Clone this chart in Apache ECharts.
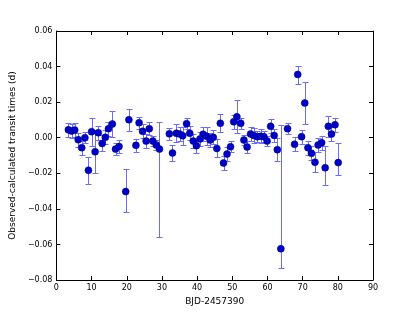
<!DOCTYPE html>
<html>
<head>
<meta charset="utf-8">
<script src="https://cdn.jsdelivr.net/npm/echarts@6/dist/echarts.min.js"></script>
<style>
  html, body { margin: 0; padding: 0; background: #fff; }
  #chart { width: 415px; height: 312px; }
</style>
</head>
<body>
<div id="chart"></div>
<script>
//--------------------------------
// Data
//--------------------------------
const epochs = [3.4, 4.3, 5.2, 6.2, 7.2, 8.1, 9.1, 10.0, 11.0, 11.9,
    13.0, 13.9, 14.8, 15.9, 16.8, 17.8, 19.7, 20.6, 22.6, 23.5,
    24.5, 25.5, 26.4, 27.4, 28.4, 29.3, 32.1, 33.0, 34.1, 35.0,
    35.9, 37.0, 37.9, 38.9, 39.8, 40.8, 41.7, 42.7, 43.7, 44.6,
    45.6, 46.6, 47.5, 48.5, 49.5, 50.4, 51.3, 52.4, 53.3, 54.2,
    55.2, 56.1, 57.1, 58.1, 59.0, 59.9, 60.9, 61.9, 62.8, 63.8,
    65.7, 67.7, 68.6, 69.7, 70.6, 71.5, 72.5, 73.5, 74.4, 75.4,
    76.4, 77.3, 78.2, 79.2, 80.1];

const oc = [0.0045, 0.0038, 0.0043, -0.0011, -0.0056, 0.0000, -0.0183, 0.0034, -0.0079, 0.0028,
    -0.0032, 0.0002, 0.0051, 0.0077, -0.0064, -0.0049, -0.0303, 0.0101, -0.0043, 0.0084,
    0.0036, -0.0019, 0.0051, -0.0019, -0.0041, -0.0064, 0.0022, -0.0086, 0.0025, 0.0021,
    0.0011, 0.0079, 0.0025, -0.0019, -0.0045, -0.0007, 0.0019, 0.0008, -0.0013, 0.0002,
    -0.0060, 0.0081, -0.0142, -0.0092, -0.0051, 0.0090, 0.0118, 0.0081, -0.0013, -0.0052,
    0.0021, 0.0013, 0.0006, 0.0008, 0.0006, -0.0019, 0.0064, 0.0013, -0.0067, -0.0624,
    0.0051, -0.0037, 0.0356, 0.0006, 0.0195, -0.0056, -0.0088, -0.0138, -0.0041, -0.0028,
    -0.0169, 0.0064, 0.0021, 0.0073, -0.0140];

// lower / upper error
const errLo = [0.004, 0.004, 0.004, 0.004, 0.004, 0.003, 0.0077, 0.0079, 0.012, 0.004,
    0.0045, 0.004, 0.004, 0.0071, 0.0035, 0.0035, 0.0115, 0.0062, 0.0035, 0.0035,
    0.004, 0.004, 0.0035, 0.003, 0.003, 0.0496, 0.0035, 0.0045, 0.005, 0.004,
    0.005, 0.003, 0.004, 0.004, 0.004, 0.004, 0.004, 0.005, 0.004, 0.004,
    0.005, 0.005, 0.004, 0.004, 0.003, 0.004, 0.0094, 0.003, 0.003, 0.0035,
    0.004, 0.004, 0.003, 0.004, 0.003, 0.003, 0.004, 0.0035, 0.0065, 0.011,
    0.003, 0.004, 0.0053, 0.004, 0.012, 0.004, 0.004, 0.0055, 0.004, 0.004,
    0.0095, 0.006, 0.004, 0.004, 0.0068];

const errHi = [0.004, 0.004, 0.004, 0.004, 0.004, 0.003, 0.0077, 0.0079, 0.012, 0.004,
    0.0045, 0.004, 0.004, 0.0071, 0.0035, 0.0035, 0.0128, 0.0062, 0.0035, 0.0035,
    0.004, 0.004, 0.0035, 0.003, 0.003, 0.0151, 0.0035, 0.0045, 0.005, 0.004,
    0.005, 0.003, 0.004, 0.004, 0.004, 0.004, 0.004, 0.005, 0.004, 0.004,
    0.005, 0.005, 0.004, 0.004, 0.003, 0.004, 0.0094, 0.003, 0.003, 0.0035,
    0.004, 0.004, 0.003, 0.004, 0.003, 0.003, 0.004, 0.0035, 0.0065, 0.0697,
    0.003, 0.004, 0.005, 0.004, 0.012, 0.004, 0.004, 0.0055, 0.004, 0.004,
    0.012, 0.006, 0.004, 0.004, 0.011];

const xTicks = { min: 0, max: 90, step: 10 };
const yTicks = { min: -0.08, max: 0.06, step: 0.02 };

//--------------------------------
// Chart
//--------------------------------
const myChart = echarts.init(document.getElementById('chart'));

const fmtY = (v) => {
    const s = Math.abs(v).toFixed(2);
    return v < -1e-9 ? '\u2212' + s : s;
};

const black = '#000';
const font = 'DejaVu Sans';

const axisBase = {
    type: 'value',
    axisLine: { show: true, onZero: false, lineStyle: { color: black, width: 1 } },
    axisTick: { show: true, inside: true, length: 4, lineStyle: { color: black } },
    splitLine: { show: false }
};

const pts = epochs.map((x, i) => [x, oc[i]]);
const bars = epochs.map((x, i) => [x, oc[i] - errLo[i], oc[i] + errHi[i]]);

const options = {
    animation: false,
    backgroundColor: '#fff',
    grid: { left: 52, right: 42, top: 31, bottom: 32 },
    xAxis: [
        {
            ...axisBase,
            min: xTicks.min, max: xTicks.max, interval: xTicks.step,
            position: 'bottom',
            axisLabel: { color: black, fontSize: 8, fontFamily: font, margin: 4 },
            name: 'BJD-2457390',
            nameLocation: 'middle',
            nameGap: 14,
            nameTextStyle: { color: black, fontSize: 9, fontFamily: font }
        },
        {
            ...axisBase,
            min: xTicks.min, max: xTicks.max, interval: xTicks.step,
            position: 'top',
            axisLabel: { show: false }
        }
    ],
    yAxis: [
        {
            ...axisBase,
            min: yTicks.min, max: yTicks.max, interval: yTicks.step,
            position: 'left',
            axisLabel: { color: black, fontSize: 8, fontFamily: font, margin: 4, formatter: fmtY },
            name: 'Observed-calculated transit times (d)',
            nameLocation: 'middle',
            nameGap: 33,
            nameTextStyle: { color: black, fontSize: 9, fontFamily: font }
        },
        {
            ...axisBase,
            min: yTicks.min, max: yTicks.max, interval: yTicks.step,
            position: 'right',
            axisLabel: { show: false }
        }
    ],
    series: [
        {
            type: 'custom',
            name: 'err',
            data: bars,
            encode: { x: 0, y: [1, 2] },
            z: 2,
            renderItem: (params, api) => {
                const x = api.value(0);
                const lo = api.coord([x, api.value(1)]);
                const hi = api.coord([x, api.value(2)]);
                const px = Math.round(lo[0]) + 0.5;
                const yl = Math.round(lo[1]) + 0.5;
                const yh = Math.round(hi[1]) + 0.5;
                const cw = 3;
                const style = { stroke: '#6b6bff', lineWidth: 1 };
                return {
                    type: 'group',
                    children: [
                        { type: 'line', shape: { x1: px, y1: yl, x2: px, y2: yh }, style },
                        { type: 'line', shape: { x1: px - cw, y1: yl, x2: px + cw, y2: yl }, style },
                        { type: 'line', shape: { x1: px - cw, y1: yh, x2: px + cw, y2: yh }, style }
                    ]
                };
            }
        },
        {
            type: 'scatter',
            name: 'O-C',
            data: pts,
            symbol: 'circle',
            symbolSize: 7,
            z: 3,
            itemStyle: { color: '#0000cc', borderColor: '#000066', borderWidth: 0.5, opacity: 1 }
        }
    ]
};

myChart.setOption(options);
</script>
</body>
</html>
